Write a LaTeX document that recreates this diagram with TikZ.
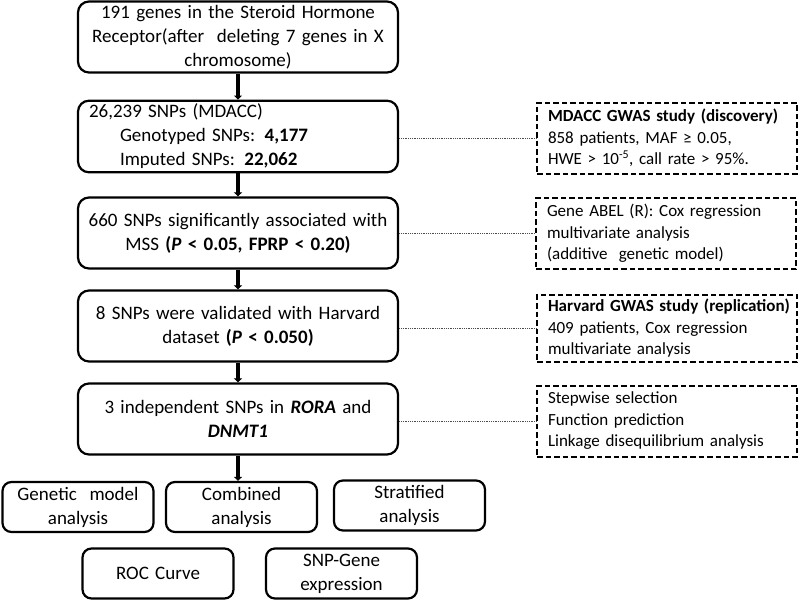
\documentclass[tikz,border=0pt]{standalone}
\usepackage{fontspec}
\setmainfont{Carlito}
\usetikzlibrary{arrows.meta}
\begin{document}
\begin{tikzpicture}[x=1pt,y=-1pt,
  mainbox/.style={draw, line width=2.2pt, rounded corners=11pt, minimum width=320pt, minimum height=71pt, inner xsep=10pt, text width=300pt, align=center, font=\fontsize{19}{24}\selectfont},
  sidebox/.style={draw, line width=2pt, dash pattern=on 5.5pt off 3pt, minimum width=260pt, minimum height=71pt, inner xsep=11pt, text width=238pt, align=left, font=\fontsize{17}{21.5}\selectfont},
  smallbox/.style={draw, line width=2.2pt, rounded corners=9pt, minimum width=151pt, minimum height=50pt, inner xsep=4pt, text width=143pt, align=center, font=\fontsize{19}{24}\selectfont},
  flow/.style={line width=4pt, -{Triangle[length=4pt,width=8pt]}},
  link/.style={line width=0.8pt, densely dotted, black!70}]
\useasboundingbox (0,0) rectangle (800,600);
\node[mainbox] (b1) at (238,37) {191 genes in the Steroid Hormone\\Receptor(after\ \ deleting 7 genes in X\\chromosome)};
\node[mainbox, align=left, inner xsep=11pt, text width=298pt] (b2) at (238,136.5) {26,239 SNPs (MDACC)\\\hspace*{31pt}Genotyped SNPs: \textbf{4,177}\\\hspace*{31pt}Imputed SNPs: \textbf{22,062}};
\node[mainbox] (b3) at (238,233) {660 SNPs significantly associated with\\MSS \textbf{(\textit{P} < 0.05, FPRP < 0.20)}};
\node[mainbox] (b4) at (238,326) {8 SNPs were validated with Harvard\\dataset \textbf{(\textit{P} < 0.050)}};
\node[mainbox] (b5) at (238,419) {3 independent SNPs in \textbf{\textit{RORA}} and\\\textbf{\textit{DNMT1}}};
\node[sidebox] (s1) at (667,138) {\textbf{MDACC GWAS study (discovery)}\\858 patients, MAF ≥ 0.05,\\HWE > 10\textsuperscript{-5}, call rate > 95\%.};
\node[sidebox] (s2) at (666,233.5) {Gene ABEL (R): Cox regression\\multivariate analysis\\(additive\ \ genetic model)};
\node[sidebox, minimum height=67pt] (s3) at (667,328.5) {\mbox{\textbf{Harvard GWAS study (replication)}}\\409 patients, Cox regression\\multivariate analysis};
\node[sidebox] (s4) at (667,421) {Stepwise selection\\Function prediction\\Linkage disequilibrium analysis};
\node[smallbox] (ga) at (78,507) {Genetic\ \ model\\analysis};
\node[smallbox] (ca) at (241.5,507) {Combined\\analysis};
\node[smallbox] (sa) at (409.5,505.5) {Stratified\\analysis};
\node[smallbox] (roc) at (158,573.5) {ROC Curve};
\node[smallbox] (sg) at (341.5,573.5) {SNP-Gene\\expression};
\draw[flow] (b1) -- (b2);
\draw[flow] (b2) -- (b3);
\draw[flow] (b3) -- (b4);
\draw[flow] (b4) -- (b5);
\draw[flow] (b5.south) -- (b5.south |- ca.north);
\draw[link] (b2.east |- s1.west) -- (s1.west);
\draw[link] (b3.east |- s2.west) -- (s2.west);
\draw[link] (b4.east |- s3.west) -- (s3.west);
\draw[link] (b5.east |- s4.west) -- (s4.west);
\end{tikzpicture}
\end{document}
